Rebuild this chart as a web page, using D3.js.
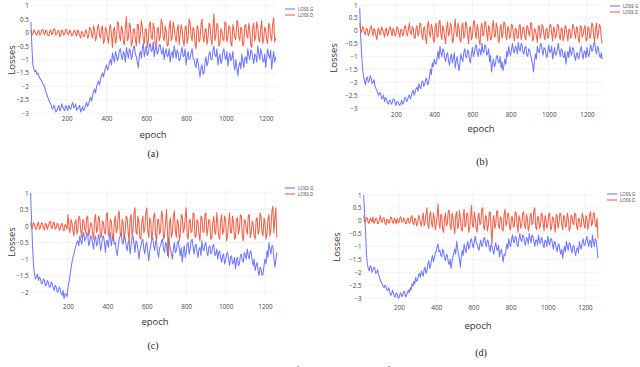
<!DOCTYPE html>
<html><head><meta charset="utf-8">
<script src="https://cdn.jsdelivr.net/npm/d3@7"></script>
<style>html,body{margin:0;padding:0;background:#fff;overflow:hidden}</style>
</head><body>
<svg id="c" width="640" height="367"></svg>
<script>
// ---------- data ----------
const seriesNames = ["LOSS G", "LOSS D"];
const panelLabels = ["(a)", "(b)", "(c)", "(d)"];
const xTicks = [200, 400, 600, 800, 1000, 1200];
const yTicks4 = [1, 0.5, 0, -0.5, -1, -1.5, -2, -2.5, -3];
const yTicks3 = [1, 0.5, 0, -0.5, -1, -1.5, -2];
const epochStep = 5;
const epochStart = [20, 10, 10, 10];

const lossG_a = [0.4,-0.5,-1.2,-1.35,-1.45,-1.4,-1.55,-1.5,-1.6,-1.7,-1.75,-1.8,-1.9,-1.95,-2.05,-2.2,-2.3,-2.4,-2.5,-2.6,-2.65,-2.8,-2.85,-2.7,-2.75,-2.95,-2.9,-2.8,-2.7,-2.9,-2.85,-2.65,-2.75,-2.85,-2.9,-2.7,-2.8,-2.9,-2.7,-2.8,-2.85,-2.7,-2.6,-2.8,-2.75,-2.65,-2.9,-2.8,-2.8,-2.7,-2.95,-2.85,-2.75,-2.9,-2.85,-2.7,-2.6,-2.75,-2.65,-2.5,-2.4,-2.55,-2.35,-2.2,-2.1,-2.25,-2.0,-1.9,-1.8,-1.95,-1.75,-1.6,-1.5,-1.65,-1.45,-1.3,-1.2,-1.4,-1.3,-1.1,-1.0,-1.2,-0.75,-0.95,-1.1,-0.7,-0.85,-1.05,-0.9,-0.65,-0.6,-0.9,-1.0,-0.7,-0.8,-1.1,-0.55,-0.75,-0.95,-0.6,-0.7,-1.0,-0.85,-0.55,-0.5,-0.8,-0.9,-1.1,-1.3,-0.85,-0.7,-0.95,-0.6,-0.4,-0.9,-0.7,-0.5,-0.85,-0.75,-0.5,-0.4,-0.7,-0.65,-0.35,-0.9,-0.6,-0.5,-0.8,-0.7,-0.45,-0.45,-0.75,-0.8,-0.55,-1.0,-0.75,-0.6,-0.9,-0.85,-0.6,-1.1,-0.8,-0.7,-0.95,-0.5,-0.7,-0.95,-0.65,-0.75,-1.05,-1.0,-0.7,-0.55,-0.9,-0.85,-0.6,-1.2,-0.9,-0.7,-1.0,-0.95,-0.75,-0.6,-0.95,-1.0,-1.2,-1.3,-0.95,-1.1,-1.4,-1.65,-1.3,-1.2,-1.55,-1.5,-1.1,-0.9,-1.25,-1.1,-0.8,-0.7,-1.0,-1.0,-0.65,-0.5,-0.85,-0.9,-0.6,-1.2,-0.95,-0.8,-1.15,-1.05,-0.7,-0.6,-0.9,-1.0,-0.7,-1.25,-0.95,-0.75,-1.05,-0.95,-0.7,-1.2,-1.4,-1.0,-1.3,-1.6,-1.25,-1.1,-1.35,-0.8,-1.05,-1.3,-0.95,-0.9,-1.15,-0.6,-0.85,-1.0,-0.65,-0.7,-0.95,-1.15,-0.8,-0.85,-1.1,-0.5,-0.75,-1.0,-0.6,-0.75,-1.05,-1.1,-0.8,-1.3,-0.95,-0.6,-0.85,-0.95,-0.65,-1.35,-1.0,-0.7,-1.1,-0.9];
const lossD_a = [0.1,-0.08,-0.05,0.1,0.05,-0.05,-0.1,0.05,0.08,-0.1,-0.05,0.1,0.12,-0.02,-0.08,0.1,0.05,-0.1,-0.12,0.05,0.1,-0.08,-0.02,0.12,0.15,-0.1,-0.05,0.05,0.08,-0.15,-0.1,0.1,0.05,-0.1,-0.05,0.12,0.1,-0.05,-0.08,0.1,0.03,-0.12,-0.1,0.05,0.08,-0.05,-0.12,0.1,0.02,-0.1,-0.2,0.05,0.0,-0.15,-0.1,0.1,0.05,-0.2,-0.15,0.2,0.15,-0.05,-0.2,0.25,0.1,-0.3,-0.15,0.2,0.3,-0.1,-0.2,0.15,0.25,-0.4,-0.3,0.2,0.1,-0.2,-0.4,0.15,0.3,-0.1,-0.55,0.1,0.2,-0.4,-0.25,0.4,0.35,-0.15,-0.3,0.25,0.1,-0.35,-0.45,0.2,0.6,-0.3,-0.2,0.35,0.25,-0.5,-0.35,0.1,0.15,-0.25,-0.5,0.3,0.3,-0.4,-0.1,0.45,0.2,-0.3,-0.4,0.15,0.1,-0.55,-0.3,0.3,0.4,-0.2,-0.25,0.35,0.15,-0.45,-0.5,0.1,0.2,-0.3,-0.15,0.5,0.35,-0.2,-0.3,0.25,0.05,-0.5,-0.45,0.2,0.45,-0.3,-0.2,0.4,0.2,-0.15,-0.35,0.1,0.3,-0.45,-0.1,0.3,0.15,-0.3,-0.5,0.2,0.25,-0.4,-0.2,0.5,0.4,-0.1,-0.3,0.2,0.1,-0.4,-0.6,0.25,0.2,-0.35,-0.25,0.3,0.5,-0.2,-0.35,0.1,0.15,-0.45,-0.2,0.35,0.3,-0.25,-0.45,0.2,0.7,-0.3,-0.1,0.35,0.25,-0.5,-0.4,0.15,0.05,-0.25,-0.3,0.4,0.35,-0.35,-0.15,0.25,0.2,-0.4,-0.5,0.3,0.1,-0.2,-0.25,0.45,0.4,-0.15,-0.3,0.2,0.15,-0.5,-0.4,0.25,0.3,-0.1,-0.2,0.35,0.1,-0.45,-0.55,0.2,0.35,-0.3,-0.15,0.4,0.2,-0.25,-0.35,0.15,0.45,-0.4,-0.25,0.2,0.1,-0.3,-0.4,0.35,0.25,-0.15,-0.3,0.3,0.55,-0.35,-0.2];

const lossG_b = [0.9,-0.2,-0.9,-1.5,-1.75,-1.95,-2.1,-1.85,-1.8,-2.0,-1.95,-1.75,-1.85,-2.05,-2.0,-1.9,-2.15,-2.25,-2.3,-2.45,-2.5,-2.4,-2.45,-2.65,-2.6,-2.5,-2.75,-2.6,-2.65,-2.8,-2.85,-2.7,-2.7,-2.85,-2.8,-2.65,-2.65,-2.8,-2.9,-2.75,-2.75,-2.85,-2.9,-2.8,-2.7,-2.85,-2.8,-2.6,-2.6,-2.75,-2.7,-2.55,-2.5,-2.65,-2.55,-2.4,-2.3,-2.5,-2.4,-2.25,-2.2,-2.35,-2.05,-2.2,-2.25,-2.0,-1.95,-2.15,-2.1,-1.9,-1.85,-2.1,-2.05,-1.8,-1.5,-1.7,-1.25,-1.4,-1.1,-1.25,-1.3,-1.05,-0.8,-1.1,-0.6,-0.85,-1.0,-0.7,-0.75,-1.05,-1.2,-0.95,-0.85,-1.15,-1.35,-1.05,-0.9,-1.25,-1.1,-0.85,-1.45,-1.2,-1.0,-1.3,-1.55,-1.25,-0.9,-1.1,-1.2,-0.85,-0.7,-1.0,-1.05,-0.75,-0.8,-1.15,-1.25,-0.9,-0.65,-1.0,-0.9,-0.6,-0.55,-0.85,-1.0,-0.7,-0.75,-0.95,-0.5,-0.8,-0.85,-0.55,-0.6,-0.95,-0.9,-0.7,-1.2,-0.95,-1.6,-1.3,-1.1,-1.4,-1.3,-1.05,-0.95,-1.2,-1.25,-1.0,-1.45,-1.2,-1.55,-1.35,-1.1,-1.3,-0.8,-1.0,-0.6,-0.85,-0.95,-0.7,-0.5,-0.8,-0.85,-0.6,-0.65,-0.9,-0.45,-0.7,-0.8,-0.5,-0.55,-0.85,-0.9,-0.65,-0.6,-0.95,-1.0,-0.7,-0.75,-0.95,-1.1,-1.3,-1.6,-1.2,-0.9,-1.1,-0.6,-0.8,-0.85,-0.55,-0.5,-0.75,-0.95,-0.65,-0.7,-0.9,-1.05,-0.8,-0.55,-0.85,-0.8,-0.6,-1.1,-0.85,-0.65,-0.95,-0.9,-0.7,-0.5,-0.8,-1.0,-0.7,-0.75,-1.0,-1.05,-0.8,-1.3,-1.0,-0.8,-1.05,-0.6,-0.85,-0.95,-0.65,-0.7,-1.0,-1.15,-0.9,-0.85,-1.1,-1.0,-0.75,-0.6,-0.9,-1.1,-0.8,-0.8,-1.05,-0.65,-0.9,-1.0,-0.7,-0.55,-0.8,-0.75,-0.5,-0.45,-0.75,-0.9,-0.6,-0.7,-0.95,-1.05,-0.85,-1.1];
const lossD_b = [0.3,0.0,-0.05,0.15,0.1,-0.1,-0.15,0.1,0.05,-0.2,-0.1,0.1,0.2,-0.05,-0.2,0.1,0.0,-0.2,-0.35,0.05,0.1,-0.15,-0.1,0.15,0.05,-0.1,-0.25,0.05,0.1,-0.2,-0.1,0.1,0.15,-0.05,-0.2,0.1,0.0,-0.2,-0.15,0.15,0.1,-0.1,-0.25,0.05,0.05,-0.2,-0.1,0.15,0.2,-0.1,-0.2,0.05,0.3,-0.05,-0.15,0.15,0.1,-0.25,-0.3,0.1,0.2,-0.2,-0.1,0.3,0.25,-0.15,-0.35,0.1,0.15,-0.3,-0.5,0.2,0.35,-0.1,-0.25,0.25,0.1,-0.35,-0.45,0.15,0.3,-0.25,-0.2,0.3,0.4,-0.15,-0.35,0.2,0.05,-0.3,-0.5,0.1,0.35,-0.2,-0.1,0.3,0.2,-0.45,-0.4,0.15,0.45,-0.1,-0.25,0.3,0.1,-0.35,-0.45,0.2,0.3,-0.3,-0.15,0.35,0.25,-0.2,-0.5,0.1,0.15,-0.35,-0.2,0.3,0.4,-0.1,-0.3,0.25,0.05,-0.4,-0.55,0.15,0.3,-0.2,-0.15,0.35,0.35,-0.1,-0.4,0.2,0.1,-0.35,-0.3,0.15,0.4,-0.25,-0.2,0.3,0.15,-0.4,-0.45,0.1,0.25,-0.3,-0.1,0.35,0.3,-0.2,-0.35,0.15,0.1,-0.3,-0.2,0.25,0.2,-0.15,-0.4,0.1,0.05,-0.3,-0.25,0.2,0.25,-0.35,-0.15,0.15,0.1,-0.25,-0.35,0.2,0.15,-0.1,-0.2,0.3,0.3,-0.4,-0.3,0.1,0.0,-0.2,-0.45,0.15,0.2,-0.3,-0.1,0.25,0.15,-0.2,-0.35,0.05,0.1,-0.3,-0.2,0.2,0.25,-0.1,-0.4,0.15,0.05,-0.3,-0.15,0.25,0.2,-0.2,-0.35,0.1,0.1,-0.4,-0.25,0.2,0.15,-0.15,-0.4,0.05,0.05,-0.3,-0.2,0.25,0.2,-0.1,-0.3,0.15,0.1,-0.35,-0.45,0.2,0.15,-0.25,-0.15,0.1,0.2,-0.4,-0.35,0.15,0.1,-0.3,-0.2,0.3,0.25,-0.2,-0.45,0.1,0.3,-0.3,-0.1,0.25,0.15,-0.3,-0.5];

const lossG_c = [1.0,0.2,-0.6,-1.2,-1.45,-1.6,-1.55,-1.45,-1.65,-1.55,-1.6,-1.75,-1.75,-1.6,-1.65,-1.8,-1.8,-1.65,-1.7,-1.85,-1.85,-1.7,-1.75,-1.9,-1.95,-1.8,-1.85,-2.0,-2.0,-1.85,-1.9,-2.05,-2.1,-1.95,-2.2,-2.05,-2.05,-2.15,-1.85,-1.7,-1.5,-1.3,-1.1,-0.95,-0.85,-0.7,-0.6,-0.5,-0.45,-0.6,-0.3,-0.45,-0.55,-0.3,-0.2,-0.45,-0.4,-0.2,-0.25,-0.6,-0.5,-0.3,-0.35,-0.55,-0.7,-0.4,-0.3,-0.6,-0.55,-0.25,-0.4,-0.75,-0.6,-0.35,-0.3,-0.5,-0.8,-0.45,-0.45,-0.65,-0.35,-0.2,-0.6,-0.4,-0.25,-0.55,-0.5,-0.75,-0.9,-0.6,-0.4,-0.3,-0.2,-0.5,-0.55,-0.3,-0.35,-0.6,-0.75,-0.5,-0.45,-0.85,-0.6,-0.35,-0.3,-0.55,-0.8,-0.45,-0.5,-0.7,-1.0,-0.75,-0.6,-0.45,-0.4,-0.7,-0.85,-0.55,-0.5,-0.8,-1.05,-0.75,-0.6,-0.4,-0.35,-0.6,-0.75,-0.45,-0.5,-0.8,-0.95,-0.65,-0.6,-0.45,-0.4,-0.7,-0.8,-0.5,-0.55,-0.9,-0.35,-0.55,-0.7,-0.85,-1.0,-0.7,-0.5,-0.8,-0.75,-0.5,-0.45,-0.7,-0.9,-0.65,-1.1,-0.8,-0.6,-0.95,-0.8,-0.55,-0.5,-0.85,-0.7,-0.45,-0.4,-0.65,-0.85,-0.6,-0.55,-0.8,-0.95,-0.7,-0.65,-0.9,-0.45,-0.7,-0.75,-0.55,-0.5,-0.8,-0.9,-0.65,-0.6,-0.85,-0.8,-0.6,-0.55,-0.9,-0.85,-0.7,-1.0,-0.8,-0.75,-0.95,-1.1,-0.9,-0.85,-1.15,-1.05,-0.85,-0.8,-1.0,-1.2,-0.95,-0.9,-1.15,-1.1,-0.95,-1.3,-1.05,-0.95,-1.2,-1.15,-0.9,-0.85,-1.05,-1.1,-0.8,-0.9,-1.0,-0.7,-0.9,-1.0,-0.75,-0.8,-1.05,-1.2,-1.0,-1.35,-1.2,-1.1,-1.35,-1.5,-1.25,-1.3,-1.5,-1.45,-1.2,-1.0,-1.15,-0.75,-0.95,-0.5,-0.7,-0.85,-0.6,-0.6,-0.95,-1.25,-1.05,-0.8];
const lossD_c = [0.1,-0.08,-0.05,0.1,0.05,-0.08,-0.1,0.05,0.12,-0.1,-0.05,0.1,0.08,-0.05,-0.12,0.08,0.05,-0.1,0.0,0.1,0.15,-0.05,-0.08,0.12,0.1,-0.1,-0.05,0.08,0.05,-0.12,-0.1,0.05,0.08,-0.1,-0.15,0.05,0.0,-0.1,0.35,-0.05,-0.2,0.2,0.1,-0.15,-0.3,0.1,0.2,-0.25,-0.1,0.3,0.25,-0.15,-0.35,0.2,0.15,-0.1,-0.2,0.25,0.3,-0.3,-0.15,0.1,0.05,-0.25,-0.4,0.2,0.35,-0.2,-0.1,0.3,0.2,-0.35,-0.3,0.15,0.1,-0.2,-0.25,0.35,0.4,-0.3,-0.2,0.2,0.15,-0.35,-0.45,0.1,0.3,-0.2,-0.1,0.35,0.45,-0.25,-0.3,0.2,0.1,-0.4,-0.2,0.3,0.25,-0.15,-0.5,0.2,0.35,-0.3,-0.15,0.4,0.55,-0.2,-0.25,0.3,0.1,-0.35,-0.4,0.15,0.3,-0.2,-0.1,0.4,0.55,-0.15,-0.35,0.25,0.15,-0.4,-0.2,0.3,0.4,-0.3,-0.45,0.2,0.2,-0.25,-0.15,0.45,0.35,-0.4,-0.3,0.1,0.5,-0.2,-0.95,0.1,0.25,-0.35,-0.2,0.3,0.45,-0.15,-0.35,0.2,0.1,-0.45,-0.25,0.35,0.3,-0.2,-0.1,0.25,0.55,-0.3,-0.4,0.15,0.2,-0.2,-0.15,0.4,0.35,-0.35,-0.3,0.2,0.1,-0.25,-0.45,0.3,0.25,-0.15,-0.2,0.35,0.4,-0.3,-0.1,0.2,0.15,-0.4,-0.35,0.1,0.3,-0.2,-0.25,0.4,0.1,-0.3,-0.4,0.15,0.35,-0.25,-0.15,0.3,0.2,-0.45,-0.3,0.1,0.4,-0.2,-0.2,0.3,0.1,-0.4,-0.35,0.2,0.25,-0.25,-0.1,0.35,0.3,-0.3,-0.45,0.2,0.15,-0.1,-0.25,0.3,0.35,-0.35,-0.2,0.15,0.05,-0.3,-0.4,0.2,0.25,-0.25,-0.15,0.4,0.3,-0.2,-0.3,0.25,0.1,-0.4,-0.25,0.2,0.35,-0.3,-0.1,0.45,0.6,-0.2,0.2,0.55,-0.35];

const lossG_d = [1.0,0.3,-0.4,-1.3,-1.7,-1.85,-1.95,-1.75,-1.8,-2.0,-1.9,-1.8,-1.85,-2.05,-2.0,-1.9,-2.1,-2.2,-2.3,-2.4,-2.45,-2.55,-2.6,-2.5,-2.55,-2.7,-2.7,-2.6,-2.75,-2.9,-2.85,-2.7,-2.8,-2.95,-2.95,-2.8,-2.85,-3.0,-3.0,-2.85,-2.8,-2.95,-2.9,-2.75,-2.75,-2.95,-2.9,-2.8,-2.7,-2.8,-2.6,-2.7,-2.45,-2.55,-2.35,-2.45,-2.2,-2.35,-2.3,-2.1,-2.05,-2.2,-1.95,-2.05,-2.15,-1.9,-1.8,-2.05,-1.95,-1.7,-1.55,-1.85,-1.75,-1.5,-1.35,-1.6,-1.45,-1.25,-1.2,-1.0,-0.9,-1.2,-1.15,-1.35,-1.4,-1.1,-1.2,-1.45,-1.55,-1.3,-1.35,-1.6,-1.7,-1.5,-1.85,-1.6,-1.4,-1.25,-1.1,-1.3,-0.8,-1.05,-1.3,-1.5,-1.8,-1.4,-1.15,-1.35,-0.9,-1.1,-1.25,-0.95,-0.8,-1.1,-1.0,-0.75,-0.7,-0.95,-1.05,-0.8,-0.6,-0.85,-0.9,-1.05,-1.15,-0.9,-0.75,-1.0,-0.95,-0.7,-0.65,-0.9,-1.0,-0.75,-0.8,-1.05,-1.2,-0.9,-1.0,-1.15,-1.3,-1.0,-0.85,-1.1,-1.15,-0.95,-1.4,-1.2,-1.1,-1.35,-1.6,-1.3,-1.35,-1.15,-0.9,-1.1,-0.7,-0.9,-1.0,-0.75,-0.55,-0.8,-0.85,-0.6,-0.65,-0.95,-1.0,-0.7,-0.5,-0.75,-0.8,-0.55,-0.6,-0.85,-0.95,-0.65,-0.7,-0.9,-0.5,-0.7,-0.85,-0.55,-0.6,-0.8,-1.0,-0.75,-0.75,-0.95,-0.55,-0.8,-0.9,-0.65,-0.7,-0.95,-1.05,-0.75,-0.8,-1.0,-0.6,-0.8,-0.95,-0.7,-0.7,-0.9,-1.1,-0.8,-0.85,-1.05,-1.2,-0.95,-0.9,-1.15,-1.3,-1.1,-1.45,-1.2,-1.0,-1.2,-0.8,-1.0,-1.15,-0.85,-0.9,-1.1,-1.25,-1.0,-0.95,-1.2,-1.35,-1.1,-1.05,-1.25,-0.8,-1.0,-1.1,-0.85,-0.7,-0.95,-0.95,-0.75,-0.6,-0.85,-1.0,-0.75,-0.8,-1.05,-0.55,-0.8,-1.0,-0.7,-0.75,-1.1,-1.45];
const lossD_d = [0.2,-0.05,-0.05,0.12,0.1,-0.08,-0.1,0.1,0.05,-0.05,0.15,-0.1,-0.05,0.1,0.08,-0.12,-0.1,0.05,0.2,-0.05,-0.05,0.12,0.1,-0.1,-0.15,0.05,0.05,-0.1,-0.05,0.15,0.12,-0.05,-0.1,0.1,0.0,-0.12,0.1,-0.05,-0.08,0.12,0.15,-0.05,-0.05,0.1,0.05,-0.1,-0.12,0.08,0.1,-0.1,-0.05,0.15,0.2,-0.1,-0.15,0.1,0.05,-0.2,-0.1,0.2,0.15,-0.1,-0.2,0.1,0.3,-0.2,-0.1,0.25,0.5,-0.15,-0.3,0.2,0.35,-0.1,-0.25,0.3,0.1,-0.35,-0.15,0.2,0.65,-0.1,-0.3,0.25,0.2,-0.35,-0.45,0.1,0.3,-0.2,-0.1,0.4,0.4,-0.2,-0.35,0.3,0.15,-0.25,-0.5,0.2,0.35,-0.3,-0.2,0.4,0.1,-0.35,-0.4,0.2,0.45,-0.25,-0.15,0.3,0.25,-0.45,-0.3,0.15,0.6,-0.2,-0.25,0.35,0.1,-0.3,-0.45,0.2,0.3,-0.15,-0.1,0.45,0.5,-0.25,-0.35,0.2,0.15,-0.4,-0.2,0.3,0.35,-0.35,-0.9,0.05,0.2,-0.3,-0.15,0.35,0.4,-0.2,-0.3,0.15,0.1,-0.35,-0.4,0.25,0.45,-0.2,-0.1,0.3,0.25,-0.3,-0.35,0.15,0.15,-0.25,-0.2,0.35,0.3,-0.15,-0.45,0.2,0.05,-0.3,-0.15,0.3,0.35,-0.2,-0.3,0.25,0.1,-0.4,-0.25,0.2,0.3,-0.15,-0.1,0.4,0.5,-0.25,-0.35,0.15,0.15,-0.3,-0.2,0.3,0.25,-0.1,-0.4,0.2,0.05,-0.3,-0.15,0.25,0.3,-0.35,-0.3,0.15,0.1,-0.2,-0.45,0.25,0.2,-0.3,-0.1,0.3,0.25,-0.15,-0.35,0.2,0.15,-0.25,-0.2,0.3,0.1,-0.4,-0.3,0.2,0.2,-0.1,-0.15,0.3,0.25,-0.2,-0.35,0.1,0.05,-0.25,-0.2,0.3,0.15,-0.15,-0.3,0.2,0.1,-0.35,-0.15,0.25,0.35,-0.2,-0.1,0.3,0.3,-0.15,-0.25,0.1,-0.7];

const gSeries = [lossG_a, lossG_b, lossG_c, lossG_d];
const dSeries = [lossD_a, lossD_b, lossD_c, lossD_d];
const yTickSets = [yTicks4, yTicks4, yTicks3, yTicks4];

// ---------- layout (pixels) ----------
const panels = [
  {x0:26.9, x1200:265.7, yHi:5.7, yLo:113.3, dHi:1, dLo:-3, ylx:12, yly:60, elx:153, ely:138, cap:[153,157], lgx:285, lgy:9, txy:121},
  {x0:357.8, x1200:587, yHi:5, yLo:108, dHi:1, dLo:-3, ylx:334, yly:58, elx:481, ely:132, cap:[482,165], lgx:610, lgy:6, txy:117},
  {x0:28.6, x1200:265, yHi:193, yLo:292, dHi:1, dLo:-2, ylx:12, yly:242, elx:155, ely:325, cap:[153,349], lgx:285, lgy:188, txy:309},
  {x0:361.8, x1200:585, yHi:195, yLo:298, dHi:1, dLo:-3, ylx:337, yly:247, elx:478, ely:329, cap:[481,356], lgx:607, lgy:194, txy:310}
];
const colors = ["#636efa", "#ef553b"];

const svg = d3.select("#c");
const fmt = v => (v < 0 ? "\u2212" : "") + Math.abs(v);

panels.forEach((p, i) => {
  const g = svg.append("g");
  const G = gSeries[i], D = dSeries[i];
  const epochs = d3.range(G.length).map(k => epochStart[i] + k * epochStep);
  const x = d3.scaleLinear().domain([0, 1200]).range([p.x0, p.x1200]);
  const y = d3.scaleLinear().domain([p.dHi, p.dLo]).range([p.yHi, p.yLo]);
  const left = x(epochs[0]), right = x(epochs[epochs.length - 1]);
  const top = p.yHi - 4, bot = p.yLo + 3;

  // grid
  g.selectAll(".vg").data(xTicks).join("line")
    .attr("x1", d => x(d)).attr("x2", d => x(d)).attr("y1", top).attr("y2", bot)
    .attr("stroke", "#eef0f4").attr("stroke-width", 0.8);
  g.selectAll(".hg").data(yTickSets[i]).join("line")
    .attr("x1", left).attr("x2", right).attr("y1", d => y(d)).attr("y2", d => y(d))
    .attr("stroke", "#eef0f4").attr("stroke-width", 0.8);

  // tick labels via axes
  const ax = g.append("g").attr("transform", `translate(0,${p.txy - 6})`)
    .call(d3.axisBottom(x).tickValues(xTicks).tickFormat(d3.format("d")).tickSize(0).tickPadding(0));
  ax.select(".domain").remove();
  ax.selectAll("text").attr("font-family", "Open Sans").attr("font-size", 6.3).attr("fill", "#444").attr("dy", "0.32em").attr("y", 4);
  const ay = g.append("g").attr("transform", `translate(${left - 2},0)`)
    .call(d3.axisLeft(y).tickValues(yTickSets[i]).tickFormat(fmt).tickSize(0).tickPadding(0));
  ay.select(".domain").remove();
  ay.selectAll("text").attr("font-family", "Open Sans").attr("font-size", 6.3).attr("fill", "#444");

  // lines
  const line = d3.line().x((d, k) => x(epochs[k])).y(d => y(d));
  [G, D].forEach((s, k) => {
    g.append("path").datum(s).attr("d", line)
      .attr("fill", "none").attr("stroke", colors[k]).attr("stroke-width", 1.05)
      .attr("stroke-linejoin", "round").attr("opacity", 0.92);
  });

  // axis titles
  g.append("text").attr("x", p.elx).attr("y", p.ely).attr("text-anchor", "middle")
    .attr("font-family", "Open Sans").attr("font-size", 9.5).attr("fill", "#333").text("epoch");
  g.append("text").attr("transform", `translate(${p.ylx},${p.yly}) rotate(-90)`).attr("text-anchor", "middle")
    .attr("dy", "0.35em").attr("font-family", "Open Sans").attr("font-size", 9.5).attr("fill", "#333").text("Losses");

  // legend
  seriesNames.forEach((n, k) => {
    const ly = p.lgy + k * 6;
    g.append("line").attr("x1", p.lgx).attr("x2", p.lgx + 10).attr("y1", ly).attr("y2", ly)
      .attr("stroke", colors[k]).attr("stroke-width", 1);
    g.append("text").attr("x", p.lgx + 13).attr("y", ly).attr("dy", "0.35em")
      .attr("font-family", "Open Sans").attr("font-size", 4.5).attr("fill", "#444").text(n);
  });

  // caption
  g.append("text").attr("x", p.cap[0]).attr("y", p.cap[1]).attr("text-anchor", "middle")
    .attr("font-family", "Liberation Serif").attr("font-size", 10).attr("fill", "#222").text(panelLabels[i]);
});

svg.append("text").attr("x", 318).attr("y", 373.5).attr("text-anchor", "middle")
  .attr("font-family", "Liberation Serif").attr("font-size", 11).attr("fill", "#333")
  .text("Fig. 3: Convergence of losses over epochs for FTGAN");
</script>
</body></html>
